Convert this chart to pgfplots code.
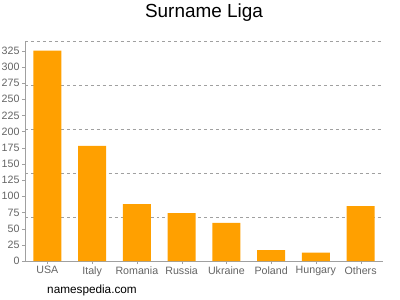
\documentclass[border=0pt]{standalone}
\usepackage{pgfplots}
\pgfplotsset{compat=1.18}
\usepackage{fontspec}
\setmainfont{Liberation Sans}
\definecolor{barorange}{RGB}{255,160,0}
\definecolor{labgray}{RGB}{100,100,100}
\definecolor{axgray}{RGB}{160,160,160}
\begin{document}
\begin{tikzpicture}[x=1bp,y=1bp]
\path[use as bounding box] (0,0) rectangle (400,300);
\begin{axis}[
  at={(25bp,39bp)}, anchor=south west,
  scale only axis, width=358bp, height=220bp,
  xmin=-0.5, xmax=7.5, ymin=0, ymax=340,
  axis x line*=bottom, axis y line*=left,
  axis line style={axgray, -},
  xtick=data,
  xticklabels={USA,Italy,Romania,Russia,Ukraine,Poland,Hungary,Others},
  ytick={0,25,...,325},
  tick style={axgray},
  major tick length=3bp,
  tick align=outside,
  ticklabel style={font=\fontsize{10.7}{12}\selectfont, text=labgray},
  /pgf/number format/assume math mode=true,
  yticklabel style={xshift=1bp},
  xticklabel style={yshift=1bp},
  extra y ticks={68,136,204,272,340},
  extra y tick labels={},
  extra y tick style={grid=major, major tick length=0pt, major grid style={axgray, dashed, line width=0.6pt}},
  clip=false,
]
\addplot[ybar, bar width=28bp, fill=barorange, draw=none] coordinates {
  (0,325) (1,178) (2,88) (3,74) (4,59) (5,17) (6,13) (7,85)
};
\end{axis}
\node[font=\fontsize{19}{22}\selectfont, anchor=center] at (204,287) {Surname Liga};
\node[font=\fontsize{11.8}{14}\selectfont, anchor=center] at (92,10) {namespedia.com};
\end{tikzpicture}
\end{document}
